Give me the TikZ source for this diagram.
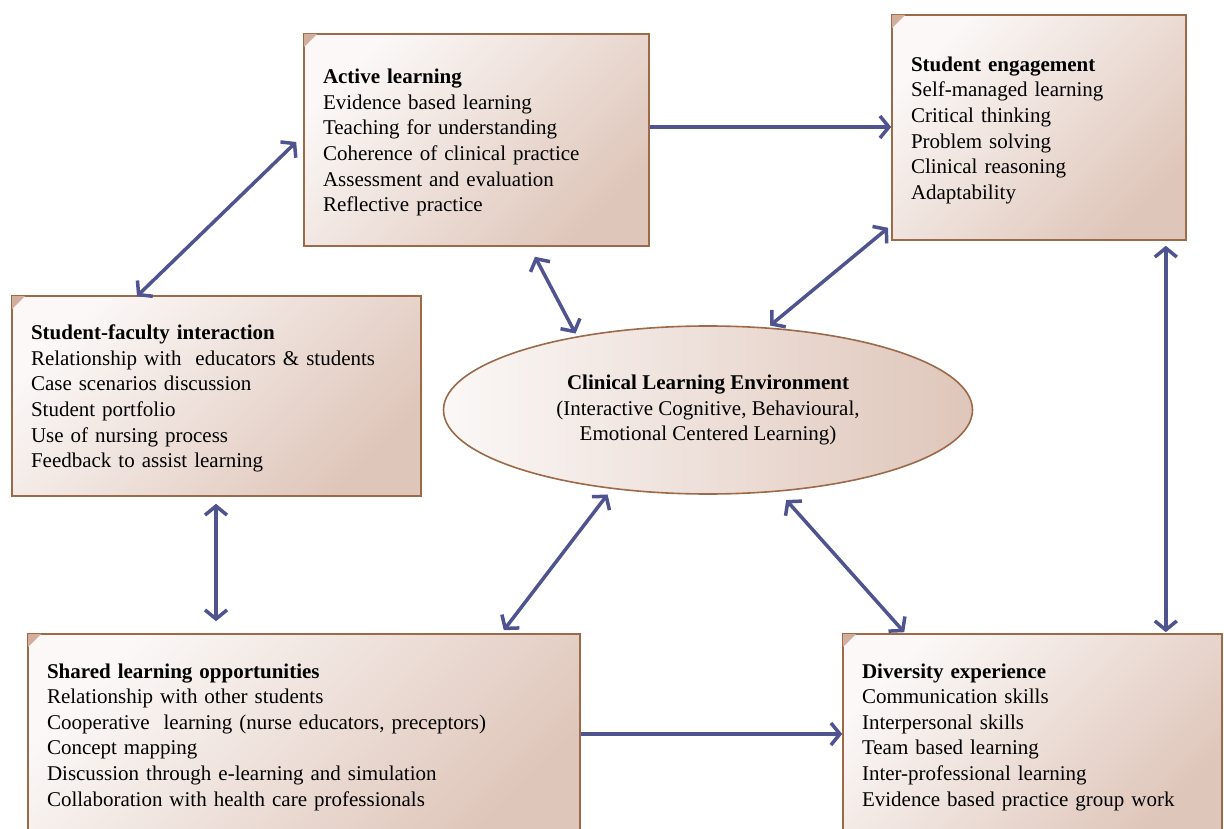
\documentclass[tikz,border=0pt]{standalone}
\usepackage{fontspec}
\setmainfont{Liberation Serif}
\usetikzlibrary{arrows.meta,calc,shapes.geometric}
\definecolor{boxA}{HTML}{FBF8F7}
\definecolor{boxB}{HTML}{DFC6BA}
\definecolor{brd}{HTML}{9C6A48}
\definecolor{corner}{HTML}{D4AE9C}
\definecolor{arr}{HTML}{4F538F}
\tikzset{
  box/.style={rectangle, draw=brd, line width=1.6pt, shading=axis, top color=boxA, bottom color=boxB, shading angle=45,
    align=left, inner xsep=19pt, inner ysep=0pt, font=\fontsize{21}{25.6}\selectfont},
  envnode/.style={ellipse, draw=brd, line width=1.6pt, shading=axis, left color=boxA, right color=boxB,
    align=center, inner sep=0pt, font=\fontsize{21}{25.6}\selectfont},
  link/.style={draw=arr, line width=3.5pt, {Straight Barb[length=9pt,width=22pt]}-{Straight Barb[length=9pt,width=22pt]}},
  onelink/.style={draw=arr, line width=3.5pt, -{Straight Barb[length=9pt,width=22pt]}},
}
\newcommand{\cornermark}[1]{\fill[corner] (#1.north west) ++(0.8,0.8) -- ++(13,0) -- ++(-13,13) -- cycle;}
\newcommand{\topgap}{\rule{0pt}{20pt}}
\begin{document}
\begin{tikzpicture}[x=1pt,y=-1pt]
\useasboundingbox (0,0) rectangle (1224,829);

\node[box, text width=307pt, minimum width=345pt, minimum height=212pt] (act) at (476.5,140)
  {\topgap\textbf{Active learning}\\Evidence based learning\\Teaching for understanding\\Coherence of clinical practice\\Assessment and evaluation\\Reflective practice};
\node[box, text width=256pt, minimum width=294pt, minimum height=225pt] (eng) at (1039,127.5)
  {\topgap\textbf{Student engagement}\\Self-managed learning\\Critical thinking\\Problem solving\\Clinical reasoning\\Adaptability};
\node[box, text width=371pt, minimum width=409pt, minimum height=200pt] (sf) at (216.5,396)
  {\topgap\textbf{Student-faculty interaction}\\Relationship with\ \ educators \& students\\Case scenarios discussion\\Student portfolio\\Use of nursing process\\Feedback to assist learning};
\node[box, text width=514pt, minimum width=552pt, minimum height=206pt] (shr) at (304,737)
  {\textbf{Shared learning opportunities}\\Relationship with other students\\Cooperative\ \ learning (nurse educators, preceptors)\\Concept mapping\\Discussion through e-learning and simulation\\Collaboration with health care professionals};
\node[box, text width=341pt, minimum width=379pt, minimum height=206pt] (div) at (1032.5,737)
  {\textbf{Diversity experience}\\Communication skills\\Interpersonal skills\\Team based learning\\Inter-professional learning\\Evidence based practice group work};
\node[envnode, minimum width=529pt, minimum height=168pt] (cle) at (708,410)
  {\textbf{Clinical Learning Environment}\\(Interactive Cognitive, Behavioural,\\Emotional Centered Learning)};

\cornermark{act}
\cornermark{eng}
\cornermark{sf}
\cornermark{shr}
\cornermark{div}

\draw[link] ([xshift=-7pt,yshift=-2pt]act.west) -- ([xshift=-79.5pt,yshift=-1pt]sf.north);
\draw[onelink] ([yshift=13pt]act.east) -- ([yshift=13pt]act.east -| eng.west);
\draw[link] ([xshift=58.5pt,yshift=-10pt]act.south) -- ([yshift=3pt]cle.151);
\draw[link] ([xshift=-3pt,yshift=13pt]eng.south west) -- ([yshift=2pt]cle.53);
\draw[link] ([xshift=-21pt,yshift=-5pt]eng.south east) -- ([xshift=-57pt,yshift=1pt]div.north east);
\draw[link] ([xshift=-0.5pt,yshift=-7pt]sf.south) -- ([xshift=-88pt,yshift=12pt]shr.north);
\draw[link] ([yshift=-6pt]cle.218) -- ([xshift=-77pt,yshift=3pt]shr.north east);
\draw[link] ([yshift=-9pt]cle.-46) -- ([xshift=62pt,yshift=1pt]div.north west);
\draw[onelink] ([yshift=3pt]shr.east) -- ([yshift=3pt]shr.east -| div.west);
\end{tikzpicture}
\end{document}
